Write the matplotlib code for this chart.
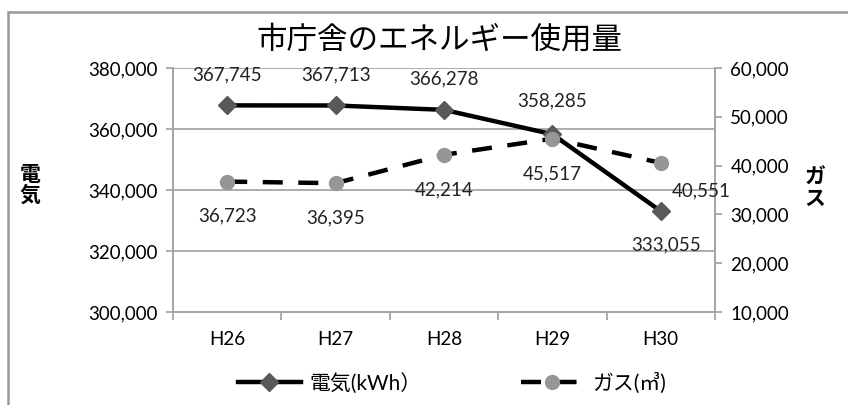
import matplotlib
matplotlib.use("Agg")
import matplotlib.pyplot as plt
from matplotlib.patches import Rectangle
from matplotlib.ticker import FuncFormatter

plt.rcParams['font.family'] = ['Lato', 'Noto Sans CJK JP', 'DejaVu Sans']

years = ["H26", "H27", "H28", "H29", "H30"]
denki = [367745, 367713, 366278, 358285, 333055]
gas = [36723, 36395, 42214, 45517, 40551]

# label offsets in points (dx, dy)
denki_off = [(0, 22), (0, 22), (0, 22), (0, 24), (4, -24)]
gas_off = [(0, -25), (0, -25), (0, -25), (0, -25), (29, -20)]

GRID = "#a6a6a6"
fmt = FuncFormatter(lambda v, p: f"{int(v):,}")

fig = plt.figure(figsize=(8.48, 4.05), dpi=100)
fig.patches.append(Rectangle((8 / 848, -0.2), 1.2, 1.2 - 12 / 405 + 0.0, transform=fig.transFigure,
                             fill=False, edgecolor="#999999", lw=1.8))

ax = fig.add_axes([173 / 848, 93 / 405, 542 / 848, 244 / 405])
ax2 = ax.twinx()

x = list(range(len(years)))
ax.set_xlim(-0.5, len(years) - 0.5)
ax.set_ylim(300000, 380000)
ax.set_yticks(range(300000, 380001, 20000))
ax.yaxis.set_major_formatter(fmt)
ax.grid(axis="y", color=GRID, lw=1.3)
ax.set_axisbelow(True)

ax2.set_ylim(10000, 60000)
ax2.set_yticks(range(10000, 60001, 10000))
ax2.yaxis.set_major_formatter(fmt)

for a in (ax, ax2):
    a.spines["top"].set_visible(False)
    for s in ("left", "right", "bottom"):
        a.spines[s].set_color(GRID)
        a.spines[s].set_linewidth(1.3)
    a.tick_params(axis="y", length=5, color=GRID, width=1.3, labelsize=13.5, pad=6)

ax.set_xticks([i - 0.5 for i in range(len(years) + 1)])
ax.set_xticklabels([])
ax.tick_params(axis="x", which="major", length=6, color=GRID, width=1.3)
ax.set_xticks(x, minor=True)
ax.set_xticklabels(years, minor=True)
ax.tick_params(axis="x", which="minor", length=0, labelsize=13.5, pad=14)

ln1, = ax.plot(x, denki, color="black", lw=3.2, marker="D", ms=9,
               markerfacecolor="#595959", markeredgecolor="#595959", zorder=4)
ln2, = ax2.plot(x, gas, color="black", lw=3.2, dashes=(4.5, 3.5), marker="o", ms=10,
                markerfacecolor="#969696", markeredgecolor="#969696", zorder=4)

for i, v in enumerate(denki):
    ax.annotate(f"{v:,}", (x[i], v), xytext=denki_off[i], textcoords="offset points",
                ha="center", va="center", fontsize=13.5, color="#222222", zorder=6)
for i, v in enumerate(gas):
    ax2.annotate(f"{v:,}", (x[i], v), xytext=gas_off[i], textcoords="offset points",
                 ha="center", va="center", fontsize=13.5, color="#222222", zorder=6)

fig.text(440 / 848, 1 - 40 / 405, "市庁舎のエネルギー使用量", ha="center", va="center",
         fontsize=22, family=["Noto Sans CJK JP"])
fig.text(30 / 848, 1 - 185 / 405, "電\n気", ha="center", va="center", fontsize=15,
         fontweight="bold", family=["Noto Sans CJK JP"], linespacing=1.0)
fig.text(815 / 848, 1 - 188 / 405, "ガ\nス", ha="center", va="center", fontsize=15,
         fontweight="bold", family=["Noto Sans CJK JP"], linespacing=1.0)

fig.legend([ln1, ln2], ["電気(kWh）", "ガス(㎥)"], loc="center", bbox_to_anchor=(452 / 848, 1 - 383 / 405),
           ncol=2, frameon=False, handlelength=3.0, columnspacing=4.8, handletextpad=0.4,
           prop={"family": ["Lato", "Noto Sans CJK JP"], "size": 15})

fig.savefig("out.png", dpi=100)
